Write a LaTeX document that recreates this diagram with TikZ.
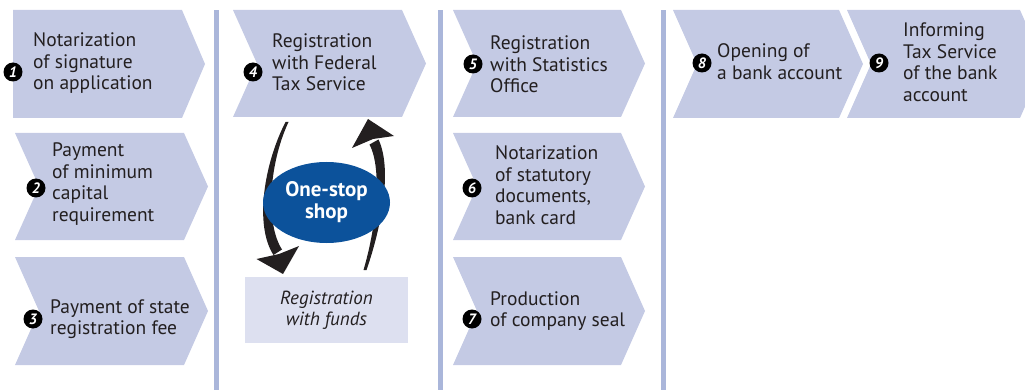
\documentclass[tikz,border=0pt]{standalone}
\usepackage{fontspec}
\setmainfont{PT Sans}
\usetikzlibrary{shapes.geometric}
\definecolor{boxfill}{RGB}{196,202,228}
\definecolor{sepcol}{RGB}{170,182,218}
\definecolor{fundfill}{RGB}{221,224,240}
\definecolor{shopblue}{RGB}{12,82,155}
\definecolor{txt}{RGB}{35,31,32}
\newcommand\mylines[1]{\begin{tabular}[t]{@{}l@{}}#1\end{tabular}}
\tikzset{
  chev/.style={fill=boxfill},
  sepbar/.style={fill=sepcol},
  lbl/.style={anchor=base west, inner sep=0pt, text=txt, font=\fontsize{19.5}{21.5}\selectfont},
  num/.style={circle, fill=black, text=white, inner sep=0pt, minimum size=19pt, font=\fontsize{15}{15}\selectfont\bfseries\itshape},
  arrowfill/.style={fill=txt},
}
\begin{document}
\begin{tikzpicture}[x=1pt,y=-1pt]
\useasboundingbox (0,0) rectangle (1025,390);
% separators
\fill[sepbar] (214,10) rectangle (219,390);
\fill[sepbar] (438,10) rectangle (443,390);
\fill[sepbar] (661,10) rectangle (666,390);
% chevrons
\fill[chev] (13,10) -- (182,10) -- (205,64) -- (182,118) -- (13,118) -- cycle;
\fill[chev] (15,133) -- (184,133) -- (208,186.5) -- (184,240) -- (15,240) -- (39,186.5) -- cycle;
\fill[chev] (15,257) -- (184,257) -- (208,311) -- (184,365) -- (15,365) -- (39,311) -- cycle;
\fill[chev] (233,10) -- (402,10) -- (426,63.5) -- (402,117) -- (233,117) -- (257,63.5) -- cycle;
\fill[chev] (453,10) -- (621,10) -- (645,63.5) -- (621,117) -- (453,117) -- (477,63.5) -- cycle;
\fill[chev] (453,133) -- (621,133) -- (645,186.5) -- (621,240) -- (453,240) -- (477,186.5) -- cycle;
\fill[chev] (453,257) -- (621,257) -- (645,311) -- (621,365) -- (453,365) -- (477,311) -- cycle;
\fill[chev] (673,10) -- (839,10) -- (863,64) -- (839,118) -- (673,118) -- (697,64) -- cycle;
\begin{scope}
\clip (0,0) rectangle (1025,390);
\fill[chev] (847,10) -- (1020,10) -- (1044,64) -- (1020,118) -- (847,118) -- (871,64) -- cycle;
\end{scope}
% registration with funds box
\fill[fundfill] (245,277) rectangle (408,343);
\node[inner sep=0pt, text=txt, font=\fontsize{19}{20.5}\selectfont\itshape, align=center] (funds) at (326.5,310) {Registration\\with funds};
% labels
\node[lbl] (t1) at (33,47) {\mylines{Notarization\\of signature\\on application}};
\node[lbl] (t2) at (52,157) {\mylines{Payment\\of minimum\\capital\\requirement}};
\node[lbl] (t3) at (50,313) {\mylines{Payment of state\\registration fee}};
\node[lbl] (t4) at (272,48) {\mylines{Registration\\with Federal\\Tax Service}};
\node[lbl] (t5) at (490,50) {\mylines{Registration\\with Statistics\\Office}};
\node[lbl] (t6) at (495,160) {\mylines{Notarization\\of statutory\\documents,\\bank card}};
\node[lbl] (t7) at (490,305) {\mylines{Production\\of company seal}};
\node[lbl] (t8) at (717,58) {\mylines{Opening of\\a bank account}};
\node[lbl] (t9) at (903,37) {\mylines{Informing\\Tax Service\\of the bank\\account}};
% numbers
\node[num] (n1) at (13,72) {1};
\node[num] (n2) at (36,188) {2};
\node[num] (n3) at (33,319) {3};
\node[num] (n4) at (253,72) {4};
\node[num] (n5) at (473,64) {5};
\node[num] (n6) at (472,188) {6};
\node[num] (n7) at (472,319) {7};
\node[num] (n8) at (702,63) {8};
\node[num] (n9) at (879,63) {9};
% curved arrows (behind the ellipse)
\fill[arrowfill] (285.5,122) .. controls (263.5,165) and (254.5,226) .. (273.5,255)
  -- (282,249.5) .. controls (265.5,224) and (268.5,165) .. (288.5,122) -- cycle;
\fill[arrowfill] (283,274) -- (256.5,259) -- (279,254) -- (299,246) -- cycle;
\fill[arrowfill] (363.5,270) .. controls (375.5,230) and (383,170) .. (369.5,144.5)
  -- (378.5,139.5) .. controls (393,170) and (380.5,230) .. (366.5,270) -- cycle;
\fill[arrowfill] (368,119) -- (352,148) -- (373,139) -- (394,136) -- cycle;
% one-stop shop
\node[ellipse, fill=shopblue, inner sep=0pt, minimum width=127pt, minimum height=81pt,
  text=white, font=\fontsize{21}{22}\selectfont\bfseries, align=center] (shop) at (326.5,202.5) {One-stop\\shop};
\end{tikzpicture}
\end{document}
